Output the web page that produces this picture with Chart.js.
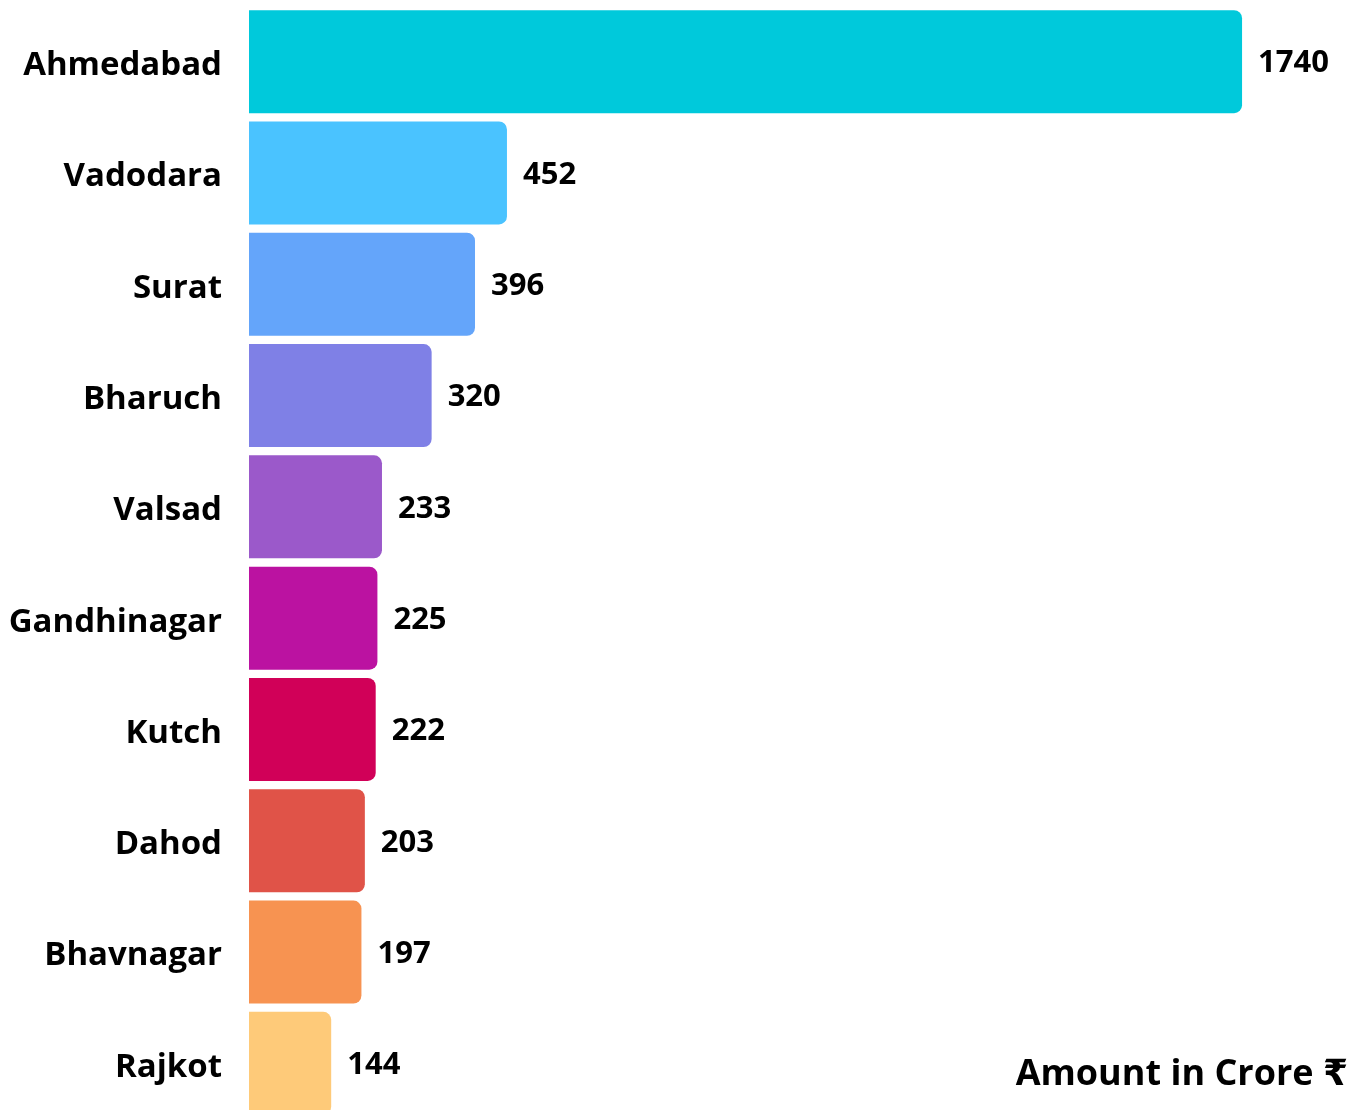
<!DOCTYPE html>
<html>
<head>
<meta charset="utf-8">
<script src="https://cdn.jsdelivr.net/npm/chart.js@4.4.1/dist/chart.umd.min.js"></script>
<style>
  html, body { margin: 0; padding: 0; background: #ffffff; overflow: hidden; }
  #wrap { position: relative; width: 1352px; height: 1120px; }
  #unit { position: absolute; right: 4px; top: 1048px; font-family: "Open Sans", "DejaVu Sans", sans-serif; font-weight: 700; font-size: 36px; line-height: 48px; color: #000; white-space: nowrap; }
</style>
</head>
<body>
<div id="wrap">
  <canvas id="c" width="1352" height="1120"></canvas>
  <div id="unit">Amount in Crore ₹</div>
</div>
<script>
const categories = ["Ahmedabad", "Vadodara", "Surat", "Bharuch", "Valsad", "Gandhinagar", "Kutch", "Dahod", "Bhavnagar", "Rajkot"];
const amounts = [1740, 452, 396, 320, 233, 225, 222, 203, 197, 144];
const barColors = ["#00C9DB", "#4AC3FF", "#64A5FA", "#7F80E6", "#9B59CA", "#BB12A1", "#D10058", "#E05348", "#F79351", "#FECA79"];
const unitLabel = "Amount in Crore ₹";

const FONT = '"Open Sans", "DejaVu Sans", sans-serif';

const valueLabels = {
  id: 'valueLabels',
  afterDatasetsDraw(chart) {
    const ctx = chart.ctx;
    const meta = chart.getDatasetMeta(0);
    ctx.save();
    ctx.font = '700 31px ' + FONT;
    ctx.fillStyle = '#000';
    ctx.textAlign = 'left';
    ctx.textBaseline = 'middle';
    meta.data.forEach((bar, i) => {
      ctx.fillText(String(amounts[i]), bar.x + 16, bar.y + 2);
    });
    ctx.restore();
  }
};

new Chart(document.getElementById('c'), {
  type: 'bar',
  data: {
    labels: categories,
    datasets: [{
      data: amounts,
      backgroundColor: barColors,
      borderWidth: 0,
      borderRadius: { topLeft: 0, bottomLeft: 0, topRight: 8, bottomRight: 8 },
      borderSkipped: false,
      barPercentage: 0.925,
      categoryPercentage: 1.0
    }]
  },
  options: {
    indexAxis: 'y',
    responsive: false,
    animation: false,
    layout: { padding: { top: 6, bottom: 1, left: 0, right: 75.7 } },
    plugins: { legend: { display: false }, tooltip: { enabled: false }, title: { display: false } },
    scales: {
      x: {
        min: 0, max: 1800,
        display: false,
        grid: { display: false }
      },
      y: {
        grid: { display: false, drawTicks: false },
        border: { display: false },
        ticks: {
          color: '#000',
          padding: 27,
          labelOffset: 4,
          font: { family: FONT, weight: '700', size: 33 }
        },
        afterFit(scale) {
          scale.width = 249;
          scale.paddingTop = 0;
          scale.paddingBottom = 0;
        }
      }
    }
  },
  plugins: [valueLabels]
});
</script>
</body>
</html>
